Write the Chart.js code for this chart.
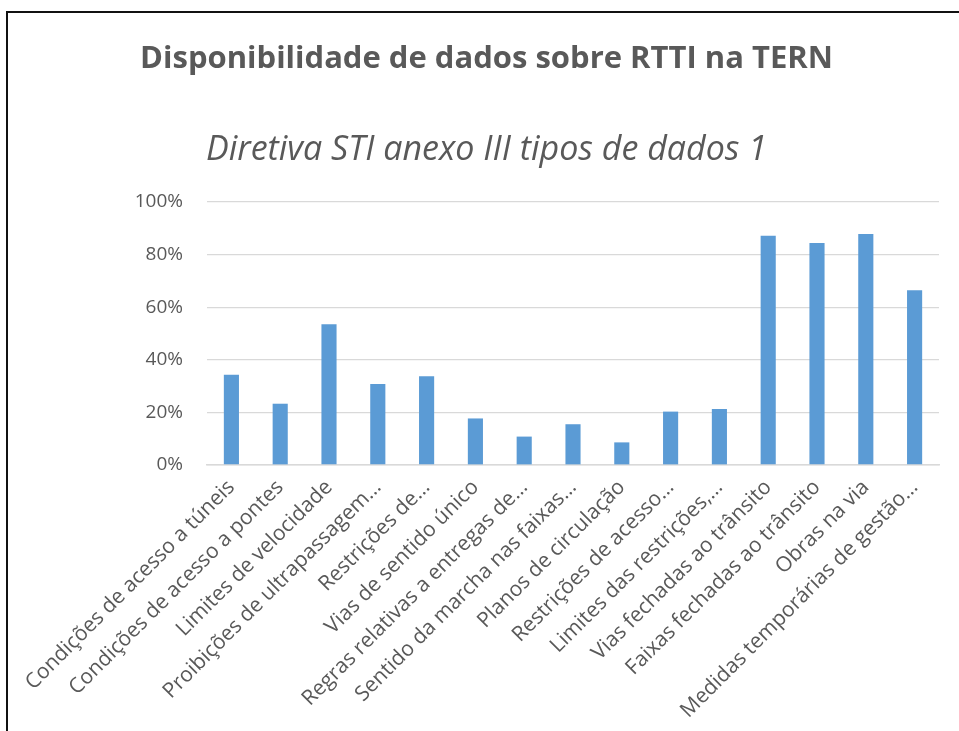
<!DOCTYPE html>
<html>
<head>
<meta charset="utf-8">
<script src="https://cdn.jsdelivr.net/npm/chart.js@4"></script>
<style>
    html, body { margin: 0; padding: 0; background: #fff; overflow: hidden; }
    #frame { position: absolute; left: 6px; top: 11px; width: 1000px; height: 800px; border: 2px solid #111; }
    #wrap { position: absolute; left: 0; top: 0; width: 959px; height: 731px; }
</style>
</head>
<body>
<div id="frame"></div>
<div id="wrap"><canvas id="rttiChart" width="959" height="731"></canvas></div>
<script>
const categories = [
    'Condições de acesso a túneis',
    'Condições de acesso a pontes',
    'Limites de velocidade',
    'Proibições de ultrapassagem…',
    'Restrições de…',
    'Vias de sentido único',
    'Regras relativas a entregas de…',
    'Sentido da marcha nas faixas…',
    'Planos de circulação',
    'Restrições de acesso…',
    'Limites das restrições,…',
    'Vias fechadas ao trânsito',
    'Faixas fechadas ao trânsito',
    'Obras na via',
    'Medidas temporárias de gestão…'
];
const availability = [34.3, 23.3, 53.5, 30.8, 33.7, 17.7, 10.8, 15.5, 8.6, 20.3, 21.3, 87.2, 84.4, 87.8, 66.4];
const yTicks = [0, 20, 40, 60, 80, 100];

const textColor = '#595959';

function drawChart() {
    new Chart(document.getElementById('rttiChart').getContext('2d'), {
        type: 'bar',
        data: {
            labels: categories,
            datasets: [{
                label: 'Disponibilidade',
                data: availability,
                backgroundColor: '#5b9bd5',
                barPercentage: 0.31,
                categoryPercentage: 1.0
            }]
        },
        options: {
            responsive: false,
            animation: false,
            layout: { padding: { left: 34, right: 20, top: 0, bottom: 0 } },
            plugins: {
                legend: { display: false },
                tooltip: { enabled: false },
                title: {
                    display: true,
                    text: 'Disponibilidade de dados sobre RTTI na TERN',
                    color: textColor,
                    font: { family: 'Open Sans', size: 31, weight: 'bold', lineHeight: 1.2 },
                    padding: { top: 41, bottom: 0 }
                },
                subtitle: {
                    display: true,
                    text: 'Diretiva STI anexo III tipos de dados 1',
                    color: textColor,
                    font: { family: 'Open Sans', size: 34, style: 'italic', lineHeight: 1.2 },
                    padding: { top: 52, bottom: 31 }
                }
            },
            scales: {
                y: {
                    min: 0,
                    max: 100,
                    afterFit: (scale) => { scale.width = 173; },
                    afterBuildTicks: (scale) => { scale.ticks = yTicks.map(v => ({ value: v })); },
                    grid: { color: '#d9d9d9', lineWidth: 1.3, drawTicks: false },
                    border: { display: false },
                    ticks: {
                        color: textColor,
                        padding: 24,
                        font: { family: 'Open Sans', size: 19 },
                        callback: (value) => value + '%'
                    }
                },
                x: {
                    afterFit: (scale) => { scale.height = 266; },
                    grid: { display: false, drawTicks: false },
                    border: { color: '#d9d9d9', width: 1.5 },
                    ticks: {
                        color: textColor,
                        autoSkip: false,
                        maxRotation: 45,
                        minRotation: 45,
                        padding: 10,
                        font: { family: 'Open Sans', size: 21 }
                    }
                }
            }
        }
    });
}

Promise.all([
    document.fonts.load('19px "Open Sans"'),
    document.fonts.load('21px "Open Sans"'),
    document.fonts.load('bold 31px "Open Sans"'),
    document.fonts.load('italic 34px "Open Sans"')
]).then(drawChart, drawChart);
</script>
</body>
</html>
